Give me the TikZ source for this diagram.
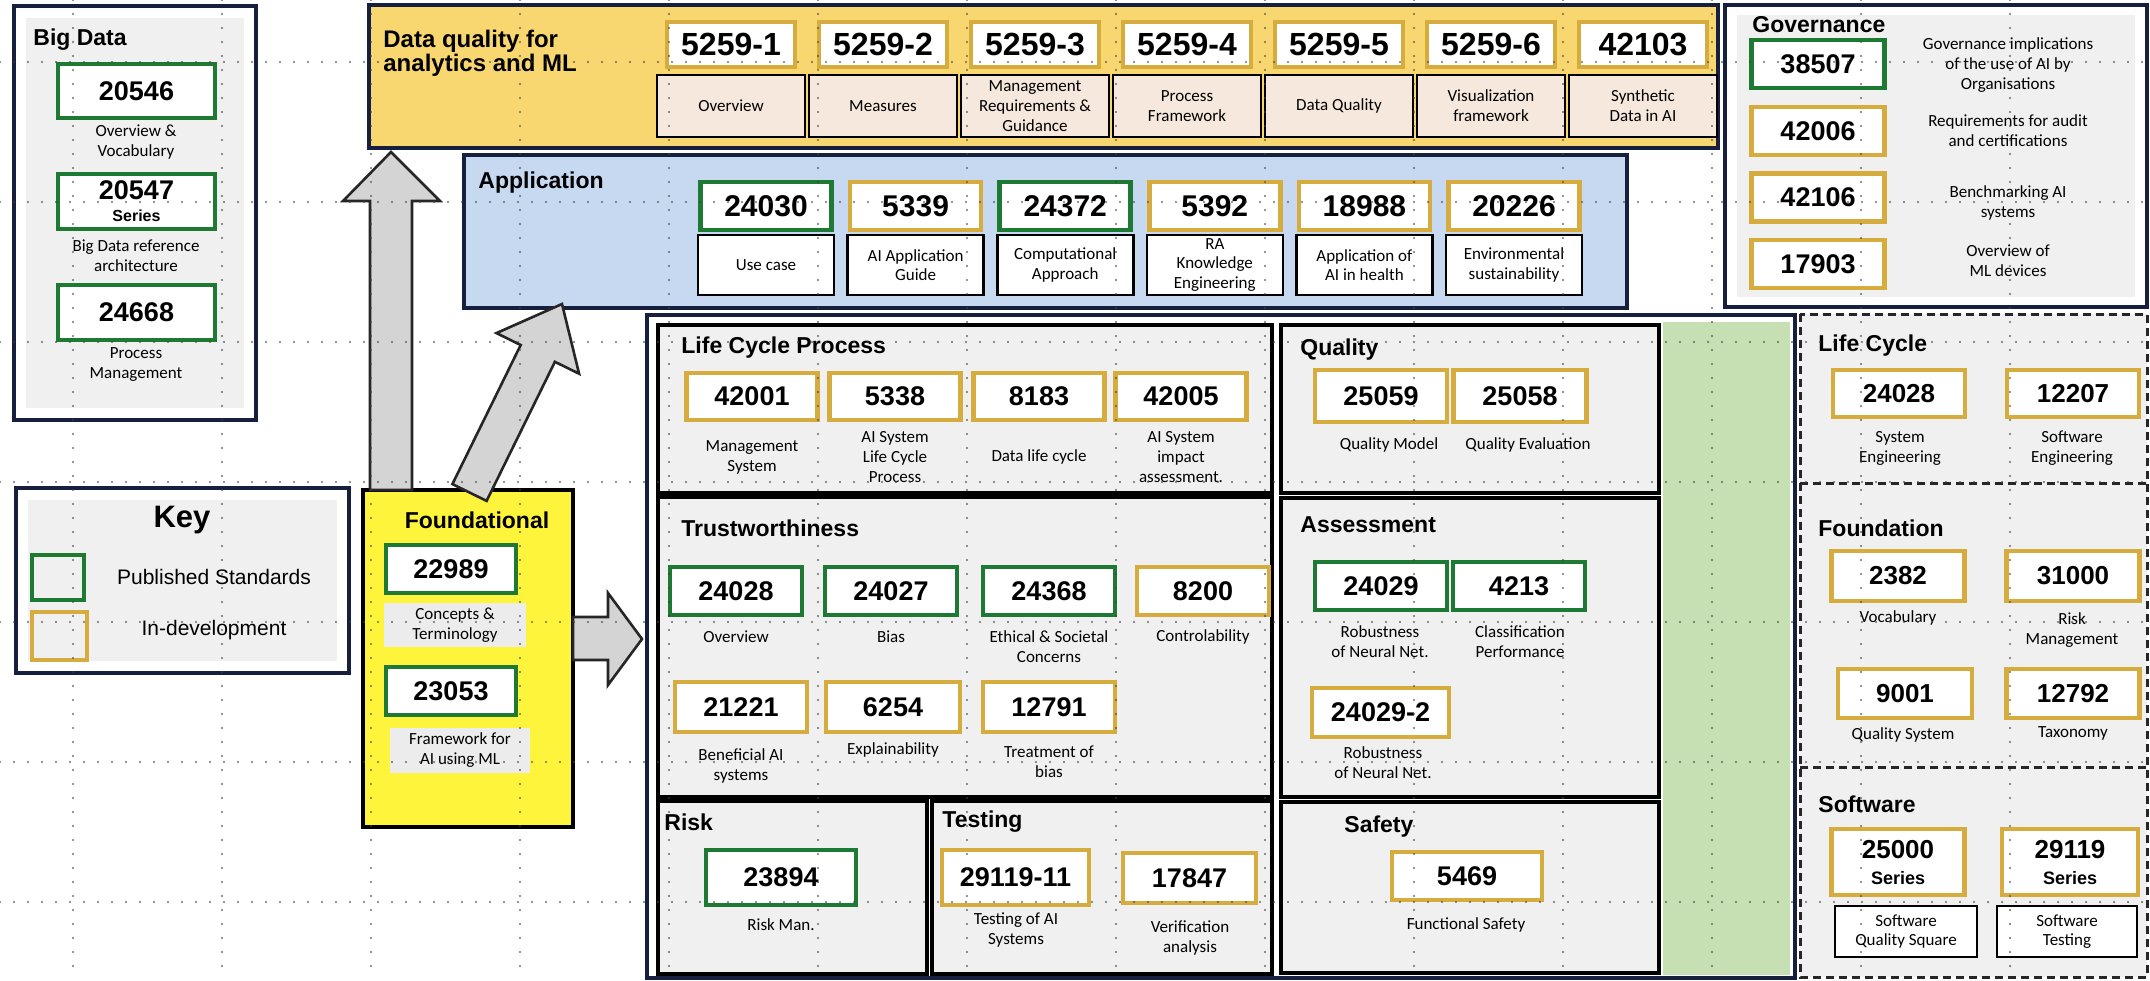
\documentclass[tikz,border=0pt]{standalone}
\usepackage{fontspec}
\setmainfont{Liberation Sans}
\newfontfamily\lblf{Carlito}
\definecolor{pubgreen}{RGB}{30,122,50}
\definecolor{devgold}{RGB}{214,172,62}
\definecolor{navy}{RGB}{22,32,62}
\definecolor{secgray}{RGB}{240,240,240}
\definecolor{lblbg}{RGB}{236,236,236}
\definecolor{dqyellow}{RGB}{249,215,112}
\definecolor{dqlbl}{RGB}{246,232,220}
\definecolor{appblue}{RGB}{198,217,240}
\definecolor{fyellow}{RGB}{255,244,60}
\definecolor{arrgray}{RGB}{212,212,212}
\definecolor{lgreen}{RGB}{198,224,180}
\newcommand\cbox[7]{\node[inner sep=0pt,#1, minimum width={(#5)*0.5pt}, minimum height={(#6)*0.5pt}] (#2) at ({#3},{#4}) {#7};}
\newcommand\rbox[7]{\cbox{#1}{#2}{(#3+#5)/2}{(#4+#6)/2}{#5-#3}{#6-#4}{#7}}
\begin{document}
\begin{tikzpicture}[x=0.5pt,y=-0.5pt,
  nbox/.style={line width=2.3pt, fill=white, align=center},
  num/.style={font=\bfseries\fontsize{13.5}{14}\selectfont},
  numdq/.style={font=\bfseries\fontsize{16}{16}\selectfont},
  numapp/.style={font=\bfseries\fontsize{15}{15}\selectfont},
  numr/.style={font=\bfseries\fontsize{13}{14}\selectfont},
  lbl/.style={font=\lblf\fontsize{8.5}{10}\selectfont, align=center, inner sep=0pt},
  ttl/.style={font=\bfseries\fontsize{11.5}{12}\selectfont, inner sep=0pt, anchor=west},
  keytxt/.style={font=\fontsize{10.5}{12}\selectfont, inner sep=0pt},
  obox/.style={draw=navy, line width=2pt, fill=white},
  sect/.style={draw=black, line width=1.6pt, fill=secgray},
  dqlb/.style={draw=black, line width=1.3pt, fill=dqlbl, font=\lblf\fontsize{8.5}{10}\selectfont, align=center},
  applb/.style={draw=black, line width=1.3pt, fill=white, font=\lblf\fontsize{8.5}{9.6}\selectfont, align=center},
  blk/.style={fill=arrgray, draw=black!85, line width=1.3pt, line join=miter},
  dsh/.style={draw=black!85, line width=1.5pt, dash pattern=on 4pt off 2.5pt},
  griddot/.style={draw=black!75, line width=1.2pt, line cap=round, dash pattern=on 0pt off 7pt, opacity=0.75}
]
\useasboundingbox (0,0) rectangle (2150,980);
\fill[white] (0,0) rectangle (2150,980);

% ---------------- Big Data
\rbox{obox}{bigdata}{14}{6}{256}{420}{}
\fill[secgray] (26,18) rectangle (244,408);
\node[ttl] (tbig) at (33,40) {Big Data};
\rbox{nbox,num,draw=pubgreen}{b1}{58}{64}{215}{118}{20546}
\node[lbl] (lb1) at (136,142) {Overview \&\\Vocabulary};
\rbox{nbox,num,draw=pubgreen}{b2}{58}{174}{215}{229}{20547\\[-3pt]{\fontsize{8}{8}\selectfont Series}}
\node[lbl] (lb2) at (136,256) {Big Data reference\\architecture};
\rbox{nbox,num,draw=pubgreen}{b3}{58}{285}{215}{340}{24668}
\node[lbl] (lb3) at (136,364) {Process\\Management};

% ---------------- Key
\rbox{obox}{key}{16}{488}{349}{673}{}
\fill[secgray] (28,500) rectangle (337,661);
\node[font=\bfseries\fontsize{15.5}{16}\selectfont, inner sep=0pt] (tkey) at (182,520) {Key};
\rbox{nbox, fill=secgray, draw=pubgreen}{kg}{32}{555}{84}{600}{}
\rbox{nbox, fill=secgray, draw=devgold}{ky}{32}{612}{87}{660}{}
\node[keytxt] (kgt) at (214,577) {Published Standards};
\node[keytxt] (kyt) at (214,630) {In-development};

% ---------------- Data quality
\rbox{obox, fill=dqyellow}{dq}{369}{5}{1718}{148}{}
\node[ttl, align=left, font=\bfseries\fontsize{12}{10.5}\selectfont] (tdq) at (383,53) {Data quality for\\analytics and ML};
\foreach \i/\n/\txt in {0/5259-1/Overview,1/5259-2/Measures,2/5259-3/{Management\\Requirements \&\\Guidance},3/5259-4/{Process\\Framework},4/5259-5/Data Quality,5/5259-6/{Visualization\\framework},6/42103/{Synthetic\\Data in AI}}{
  \cbox{nbox,numdq,draw=devgold}{dqn\i}{731+152*\i}{44.5}{128}{45}{\n}
  \cbox{dqlb}{dql\i}{731+152*\i}{106}{148}{62}{\txt}
}

% ---------------- Application
\rbox{obox, fill=appblue}{app}{464}{155}{1627}{308}{}
\node[ttl] (tapp) at (478,183) {Application};
\foreach \i/\c/\n/\txt in {0/pubgreen/24030/Use case,1/devgold/5339/{AI Application\\Guide},2/pubgreen/24372/{Computational\\Approach},3/devgold/5392/{RA\\Knowledge\\Engineering},4/devgold/18988/{Application of\\AI in health},5/devgold/20226/{Environmental\\sustainability}}{
  \cbox{nbox,numapp,draw=\c}{apn\i}{766+149.6*\i}{206}{131}{48}{\n}
  \cbox{applb}{apl\i}{766+149.6*\i}{265}{136}{60}{\txt}
}

% ---------------- Governance
\rbox{obox}{gov}{1725}{5}{2147}{307}{}
\fill[secgray] (1737,15) rectangle (2135,297);
\node[ttl] (tgov) at (1752,25) {Governance};
\cbox{nbox,num,draw=pubgreen}{g1}{1818}{64}{133}{48}{38507}
\cbox{nbox,num,draw=devgold}{g2}{1818}{131}{133}{48}{42006}
\cbox{nbox,num,draw=devgold}{g3}{1818}{197.5}{133}{48}{42106}
\cbox{nbox,num,draw=devgold}{g4}{1818}{264}{133}{48}{17903}
\node[lbl] (gl1) at (2008,65) {Governance implications\\of the use of AI by\\Organisations};
\node[lbl] (gl2) at (2008,131) {Requirements for audit\\and certifications};
\node[lbl] (gl3) at (2008,203) {Benchmarking AI\\systems};
\node[lbl] (gl4) at (2008,261) {Overview of\\ML devices};

% ---------------- Foundational
\rbox{draw=black, line width=1.8pt, fill=fyellow}{found}{363}{490}{573}{827}{}
\node[font=\bfseries\fontsize{11.5}{12}\selectfont, inner sep=0pt] (tfound) at (477,520) {Foundational};
\rbox{nbox,num,draw=pubgreen}{f1}{386}{545}{516}{593}{22989}
\rbox{lbl,fill=lblbg}{fl1}{384}{603}{526}{647}{Concepts \&\\Terminology}
\rbox{nbox,num,draw=pubgreen}{f2}{386}{667}{516}{715}{23053}
\rbox{lbl,fill=lblbg}{fl2}{390}{728}{530}{773}{Framework for\\AI using ML}

% ---------------- Main box
\rbox{draw=navy, line width=2.2pt, fill=white}{main}{647}{315}{1795}{978}{}
\fill[lgreen] (1663,322) rectangle (1790,975);
\rbox{sect}{lcp}{658}{325}{1272}{493}{}
\rbox{sect}{trust}{658}{497}{1272}{797}{}
\rbox{sect}{risk}{658}{801}{927}{974}{}
\rbox{sect}{testing}{932}{801}{1272}{974}{}
\rbox{sect}{quality}{1281}{325}{1659}{493}{}
\rbox{sect}{assess}{1281}{498}{1659}{797}{}
\rbox{sect}{safety}{1281}{802}{1659}{973}{}

% Life Cycle Process
\node[ttl] (tlcp) at (681,348) {Life Cycle Process};
\foreach \x/\n/\txt/\nm in {752/42001/{Management\\System}/a,895/5338/{AI System\\Life Cycle\\Process}/b,1039/8183/Data life cycle/c,1181/42005/{AI System\\impact\\assessment.}/d}{
  \cbox{nbox,num,draw=devgold}{lc\nm}{\x}{396.5}{131}{47}{\n}
  \node[lbl] (lcl\nm) at (\x,457) {\txt};
}

% Trustworthiness
\node[ttl] (ttrust) at (681,528) {Trustworthiness};
\foreach \x/\c/\n/\nm in {736/pubgreen/24028/a,891/pubgreen/24027/b,1049/pubgreen/24368/c,1203/devgold/8200/d}{
  \cbox{nbox,num,draw=\c}{tr\nm}{\x}{591}{132}{48}{\n}
}
\node[lbl] (trla) at (736,637) {Overview};
\node[lbl] (trlb) at (891,637) {Bias};
\node[lbl] (trlc) at (1049,647) {Ethical \& Societal\\Concerns};
\node[lbl] (trld) at (1203,637) {Controlability};
\cbox{nbox,num,draw=devgold}{tre}{741}{707}{132}{50}{21221}
\cbox{nbox,num,draw=devgold}{trf}{893}{707}{134}{50}{6254}
\cbox{nbox,num,draw=devgold}{trg}{1049}{707}{132}{50}{12791}
\node[lbl] (trle) at (741,766) {Beneficial AI\\systems};
\node[lbl] (trlf) at (893,750) {Explainability};
\node[lbl] (trlg) at (1049,762) {Treatment of\\bias};

% Risk / Testing
\node[ttl] (trisk) at (664,822) {Risk};
\cbox{nbox,num,draw=pubgreen}{rk}{781}{877.5}{150}{55}{23894}
\node[lbl] (rkl) at (781,925) {Risk Man.};
\node[ttl] (ttest) at (942,822) {Testing};
\cbox{nbox,num,draw=devgold}{ts1}{1015.5}{877.5}{147}{55}{29119-11}
\cbox{nbox,num,draw=devgold}{ts2}{1189.5}{878}{133}{50}{17847}
\node[lbl] (tsl1) at (1016,930) {Testing of AI\\Systems};
\node[lbl] (tsl2) at (1190,938) {Verification\\analysis};

% Quality
\node[ttl] (tqual) at (1300,350) {Quality};
\cbox{nbox,num,draw=devgold}{q1}{1381}{396}{132}{52}{25059}
\cbox{nbox,num,draw=devgold}{q2}{1520}{396}{133}{52}{25058}
\node[lbl] (ql1) at (1389,445) {Quality Model};
\node[lbl] (ql2) at (1528,445) {Quality Evaluation};

% Assessment
\node[ttl] (tass) at (1300,525) {Assessment};
\cbox{nbox,num,draw=pubgreen}{as1}{1381}{586}{132}{48}{24029}
\cbox{nbox,num,draw=pubgreen}{as2}{1519}{586}{132}{48}{4213}
\node[lbl] (asl1) at (1380,642) {Robustness\\of Neural Net.};
\node[lbl] (asl2) at (1520,642) {Classification\\Performance};
\cbox{nbox,num,draw=devgold}{as3}{1380.5}{712.5}{137}{49}{24029-2}
\node[lbl] (asl3) at (1383,763) {Robustness\\of Neural Net.};

% Safety
\node[ttl] (tsaf) at (1344,827) {Safety};
\cbox{nbox,num,draw=devgold}{sf}{1467}{876}{150}{48}{5469}
\node[lbl] (sfl) at (1466,925) {Functional Safety};

% ---------------- Right dashed panel
\fill[secgray] (1800,314) rectangle (2147,977);
\coordinate (rp1) at (1800,483);
\coordinate (rp2) at (2147,483);
\coordinate (rp3) at (1800,767);
\coordinate (rp4) at (2147,767);
\draw[dsh] (1800,314) rectangle (2147,977);
\draw[dsh] (rp1) -- (rp2);
\draw[dsh] (rp3) -- (rp4);
\node[ttl] (tlc) at (1818,346) {Life Cycle};
\cbox{nbox,numr,draw=devgold}{r1}{1899}{393.5}{132}{47}{24028}
\cbox{nbox,numr,draw=devgold}{r2}{2073}{393.5}{132}{47}{12207}
\node[lbl] (rl1) at (1900,448) {System\\Engineering};
\node[lbl] (rl2) at (2072,448) {Software\\Engineering};
\node[ttl] (tfd) at (1818,528) {Foundation};
\cbox{nbox,numr,draw=devgold}{r3}{1898}{576}{133}{50}{2382}
\cbox{nbox,numr,draw=devgold}{r4}{2073}{576}{133}{50}{31000}
\node[lbl] (rl3) at (1898,618) {Vocabulary};
\node[lbl] (rl4) at (2072,630) {Risk\\Management};
\cbox{nbox,numr,draw=devgold}{r5}{1905}{693.5}{134}{49}{9001}
\cbox{nbox,numr,draw=devgold}{r6}{2073}{693.5}{133}{49}{12792}
\node[lbl] (rl5) at (1903,735) {Quality System};
\node[lbl] (rl6) at (2073,733) {Taxonomy};
\node[ttl] (tsw) at (1818,804) {Software};
\cbox{nbox,numr,draw=devgold}{r7}{1898}{862}{133}{66}{25000\\[-1pt]{\fontsize{9}{9}\selectfont Series}}
\cbox{nbox,numr,draw=devgold}{r8}{2070}{862}{136}{66}{29119\\[-1pt]{\fontsize{9}{9}\selectfont Series}}
\cbox{applb}{rl7}{1906}{931.5}{142}{51}{Software\\Quality Square}
\cbox{applb}{rl8}{2067}{931.5}{140}{51}{Software\\Testing}

% ---------------- Block arrows
\draw[blk] (370,490) -- (370,201) -- (343,201) -- (391,152) -- (440,201) -- (412,201) -- (412,490) -- cycle;
\draw[blk] (452.4,484.1) -- (520.7,345.0) -- (496.5,333.1) -- (562,304) -- (579.1,373.7) -- (554.9,361.8) -- (486.6,500.9) -- cycle;
\draw[blk] (573,617) -- (608,617) -- (608,593) -- (642,639) -- (608,685) -- (608,660) -- (573,660) -- cycle;

% ---------------- dotted guide grid
\foreach \x in {73,222,...,2010} \draw[griddot] (\x,0) -- (\x,980);
\foreach \y in {62,202,...,902} \draw[griddot] (0,\y) -- (2150,\y);
\end{tikzpicture}
\end{document}
